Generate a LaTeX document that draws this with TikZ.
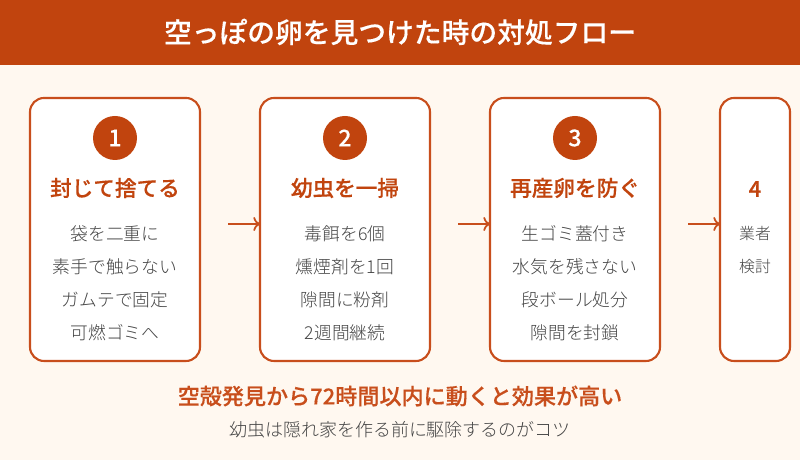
\documentclass[tikz,border=0pt]{standalone}
\usepackage{fontspec}
\setmainfont{Noto Sans CJK JP}
\newfontfamily\lightfont{Noto Sans CJK JP Light}
\newfontfamily\mediumfont[FakeBold=0.3]{Noto Sans CJK JP Medium}
\definecolor{rust}{RGB}{193, 68, 14}
\definecolor{edge}{RGB}{200, 78, 28}
\definecolor{cream}{RGB}{255, 248, 240}
\definecolor{ink}{RGB}{68, 68, 68}
\tikzset{
  card/.style={draw=edge, line width=0.6pt, fill=white, rounded corners=0.14cm, minimum height=2.63cm, inner sep=0pt},
  badge/.style={circle, fill=rust, text=white, minimum size=0.44cm, inner sep=0pt, font=\fontsize{6.6}{7}\selectfont\mediumfont},
  headline/.style={text=rust, inner sep=0pt, font=\fontsize{6.15}{7}\selectfont\mediumfont},
  bodyline/.style={text=ink, inner sep=0pt, font=\fontsize{5.05}{6}\selectfont\lightfont},
  flowarrow/.style={draw=edge, line width=0.5pt, shorten >=-0.4pt, -{To[length=2pt,width=4pt]}}
}
\usetikzlibrary{arrows.meta}
\begin{document}
\begin{tikzpicture}
  \useasboundingbox (0, 0) rectangle (8, 4.6);
  \fill[cream] (0, 0) rectangle (8, 4.6);
  \fill[rust] (0, 3.945) rectangle (8, 4.6);

  \node[text=white, inner sep=0pt, font=\fontsize{7.9}{9}\selectfont\mediumfont] (title) at (4, 4.28) {空っぽの卵を見つけた時の対処フロー};

  \node[card, minimum width=1.7cm] (card1) at (1.15, 2.305) {};
  \node[card, minimum width=1.7cm] (card2) at (3.45, 2.305) {};
  \node[card, minimum width=1.7cm] (card3) at (5.75, 2.305) {};
  \node[card, minimum width=0.7cm] (card4) at (7.55, 2.305) {};

  % first card
  \node[badge] (badge1) at (1.15, 3.22) {1};
  \node[headline] (head1) at (1.15, 2.72) {封じて捨てる};
  \node[bodyline] (line11) at (1.15, 2.265) {袋を二重に};
  \node[bodyline] (line12) at (1.15, 1.935) {素手で触らない};
  \node[bodyline] (line13) at (1.15, 1.605) {ガムテで固定};
  \node[bodyline] (line14) at (1.15, 1.275) {可燃ゴミへ};

  % second card
  \node[badge] (badge2) at (3.45, 3.22) {2};
  \node[headline] (head2) at (3.45, 2.72) {幼虫を一掃};
  \node[bodyline] (line21) at (3.45, 2.265) {毒餌を6個};
  \node[bodyline] (line22) at (3.45, 1.935) {燻煙剤を1回};
  \node[bodyline] (line23) at (3.45, 1.605) {隙間に粉剤};
  \node[bodyline] (line24) at (3.45, 1.275) {2週間継続};

  % third card
  \node[badge] (badge3) at (5.75, 3.22) {3};
  \node[headline] (head3) at (5.75, 2.72) {再産卵を防ぐ};
  \node[bodyline] (line31) at (5.75, 2.265) {生ゴミ蓋付き};
  \node[bodyline] (line32) at (5.75, 1.935) {水気を残さない};
  \node[bodyline] (line33) at (5.75, 1.605) {段ボール処分};
  \node[bodyline] (line34) at (5.75, 1.275) {隙間を封鎖};

  % fourth card
  \node[text=rust, inner sep=0pt, font=\fontsize{6.3}{7}\selectfont\mediumfont] (head4) at (7.55, 2.71) {4};
  \node[bodyline, font=\fontsize{4.5}{6}\selectfont\lightfont] (line41) at (7.55, 2.265) {業者};
  \node[bodyline, font=\fontsize{4.5}{6}\selectfont\lightfont] (line42) at (7.55, 1.93) {検討};

  \coordinate (start1) at (2.28, 2.36);
  \coordinate (start2) at (4.58, 2.36);
  \coordinate (start3) at (6.88, 2.36);
  \draw[flowarrow] (start1) -- (start1 -| card2.west);
  \draw[flowarrow] (start2) -- (start2 -| card3.west);
  \draw[flowarrow] (start3) -- (start3 -| card4.west);

  \node[text=edge, inner sep=0pt, font=\fontsize{6.28}{7}\selectfont\mediumfont] (note) at (4, 0.64) {空殻発見から72時間以内に動くと効果が高い};
  \node[bodyline, font=\fontsize{5.12}{6}\selectfont\lightfont] (hint) at (4, 0.30) {幼虫は隠れ家を作る前に駆除するのがコツ};
\end{tikzpicture}
\end{document}
